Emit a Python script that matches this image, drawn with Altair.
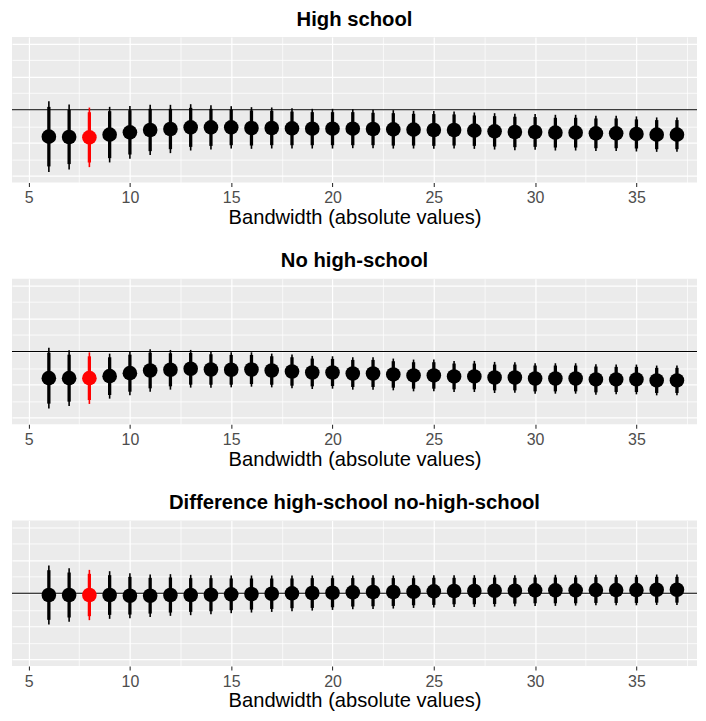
import altair as alt
import pandas as pd

bandwidth = list(range(6, 38))
highlight_bw = 8

panel_titles = ["High school", "No high-school", "Difference high-school no-high-school"]
x_title = "Bandwidth (absolute values)"
x_grid_values = [5, 7.5, 10, 12.5, 15, 17.5, 20, 22.5, 25, 27.5, 30, 32.5, 35, 37.5]
y_grid_values = [-0.2, -0.15, -0.1, -0.05, 0.0, 0.05, 0.1, 0.15, 0.2]
reference_line = [0.0]

hs_est = [-0.0814, -0.0823, -0.0835, -0.0753, -0.0684, -0.0612, -0.0582, -0.0533, -0.0533, -0.0533,
          -0.0552, -0.0552, -0.0564, -0.0573, -0.0573, -0.0573, -0.0582, -0.0594, -0.0603, -0.0612,
          -0.0612, -0.0633, -0.0654, -0.0672, -0.0672, -0.0693, -0.0693, -0.0714, -0.0714, -0.0732,
          -0.0753, -0.0753]
hs_ci95 = [0.107, 0.098, 0.090, 0.084, 0.080, 0.076, 0.073, 0.070, 0.067, 0.064, 0.063, 0.062, 0.061,
           0.060, 0.060, 0.059, 0.058, 0.058, 0.057, 0.057, 0.056, 0.055, 0.055, 0.055, 0.054, 0.054,
           0.054, 0.053, 0.053, 0.053, 0.052, 0.052]
hs_ci90 = [0.090, 0.082, 0.076, 0.071, 0.067, 0.064, 0.061, 0.059, 0.056, 0.054, 0.053, 0.052, 0.051,
           0.050, 0.050, 0.050, 0.049, 0.049, 0.048, 0.048, 0.047, 0.046, 0.046, 0.046, 0.045, 0.045,
           0.045, 0.045, 0.045, 0.044, 0.044, 0.044]

nhs_est = [-0.0805, -0.0805, -0.0805, -0.0744, -0.0654, -0.0573, -0.0552, -0.0521, -0.0543, -0.0552,
           -0.0543, -0.0573, -0.0603, -0.0633, -0.0633, -0.0663, -0.0663, -0.0693, -0.0723, -0.0723,
           -0.0753, -0.0753, -0.0784, -0.0784, -0.0814, -0.0814, -0.0814, -0.0844, -0.0844, -0.0844,
           -0.0874, -0.0874]
nhs_ci95 = [0.092, 0.084, 0.078, 0.068, 0.067, 0.064, 0.060, 0.057, 0.055, 0.053, 0.052, 0.051, 0.051,
            0.050, 0.049, 0.049, 0.049, 0.048, 0.048, 0.048, 0.047, 0.047, 0.047, 0.046, 0.046, 0.046,
            0.046, 0.046, 0.045, 0.045, 0.045, 0.045]
nhs_ci90 = [0.077, 0.071, 0.066, 0.057, 0.056, 0.054, 0.050, 0.048, 0.046, 0.045, 0.044, 0.043, 0.043,
            0.042, 0.041, 0.041, 0.041, 0.040, 0.040, 0.040, 0.039, 0.039, 0.039, 0.039, 0.039, 0.039,
            0.039, 0.039, 0.038, 0.038, 0.038, 0.038]

diff_est = [-0.0051, -0.0051, -0.0051, -0.0051, -0.0072, -0.0072, -0.0051, -0.0051, -0.0042, -0.0030,
            -0.0021, -0.0012, 0.0000, 0.0009, 0.0018, 0.0030, 0.0039, 0.0039, 0.0048, 0.0060,
            0.0069, 0.0069, 0.0078, 0.0078, 0.0090, 0.0090, 0.0090, 0.0099, 0.0099, 0.0099,
            0.0108, 0.0108]
diff_ci95 = [0.089, 0.081, 0.076, 0.072, 0.068, 0.064, 0.063, 0.061, 0.059, 0.057, 0.056, 0.055, 0.054,
             0.053, 0.052, 0.051, 0.051, 0.050, 0.049, 0.049, 0.048, 0.048, 0.048, 0.047, 0.047, 0.047,
             0.046, 0.046, 0.046, 0.046, 0.046, 0.046]
diff_ci90 = [0.075, 0.068, 0.064, 0.060, 0.057, 0.054, 0.053, 0.051, 0.050, 0.048, 0.047, 0.046, 0.045,
             0.045, 0.044, 0.043, 0.043, 0.042, 0.041, 0.041, 0.040, 0.040, 0.040, 0.039, 0.039, 0.039,
             0.039, 0.039, 0.039, 0.039, 0.039, 0.039]

FONT = "Liberation Sans"
W, H = 687, 146

x_scale = alt.Scale(domain=[4.18, 37.99], nice=False, zero=False)
y_scale = alt.Scale(domain=[-0.22, 0.22], nice=False, zero=False)

x_axis = alt.Axis(
    values=x_grid_values,
    labelExpr="datum.value % 5 === 0 ? datum.label : ''",
    title=x_title,
    tickColor={"condition": {"test": "datum.value % 5 === 0", "value": "#333333"}, "value": "transparent"},
    gridWidth={"condition": {"test": "datum.value % 5 === 0", "value": 1.2}, "value": 0.7},
)
y_axis = alt.Axis(
    values=y_grid_values,
    labels=False,
    ticks=False,
    domain=False,
    title=None,
    gridWidth={"condition": {"test": "abs(datum.value * 10 - round(datum.value * 10)) < 0.001", "value": 1.2},
               "value": 0.8},
)
color = alt.Color("hl:N", scale=alt.Scale(domain=["no", "yes"], range=["#000000", "#FF0000"]), legend=None)


def panel(title, est, ci95, ci90):
    df = pd.DataFrame({"bw": bandwidth, "est": est, "ci95": ci95, "ci90": ci90})
    df["lo95"] = df["est"] - df["ci95"]
    df["hi95"] = df["est"] + df["ci95"]
    df["lo90"] = df["est"] - df["ci90"]
    df["hi90"] = df["est"] + df["ci90"]
    df["hl"] = ["yes" if b == highlight_bw else "no" for b in bandwidth]
    base = alt.Chart(df)
    zero = alt.Chart(pd.DataFrame({"y": reference_line})).mark_rule(color="black", strokeWidth=1.1).encode(
        y=alt.Y("y:Q", scale=y_scale, axis=y_axis)
    )
    thin = base.mark_rule(strokeWidth=1.6).encode(
        x=alt.X("bw:Q", scale=x_scale, axis=x_axis),
        y=alt.Y("lo95:Q", scale=y_scale, axis=y_axis),
        y2="hi95:Q",
        color=color,
    )
    thick = base.mark_rule(strokeWidth=3.3).encode(
        x=alt.X("bw:Q", scale=x_scale, axis=x_axis),
        y=alt.Y("lo90:Q", scale=y_scale, axis=y_axis),
        y2="hi90:Q",
        color=color,
    )
    pts = base.mark_circle(size=215, opacity=1).encode(
        x=alt.X("bw:Q", scale=x_scale, axis=x_axis),
        y=alt.Y("est:Q", scale=y_scale, axis=y_axis),
        color=color,
    )
    return alt.layer(zero, thin, thick, pts).properties(
        width=W, height=H, title=alt.TitleParams(text=title)
    )


chart = alt.vconcat(
    panel(panel_titles[0], hs_est, hs_ci95, hs_ci90),
    panel(panel_titles[1], nhs_est, nhs_ci95, nhs_ci90),
    panel(panel_titles[2], diff_est, diff_ci95, diff_ci90),
    spacing=22.5,
).properties(
    padding={"left": 3, "top": 0, "right": 0, "bottom": 0},
    background="white",
).configure_view(
    fill="#EBEBEB", strokeWidth=0
).configure_axis(
    gridColor="#FFFFFF",
    domain=False,
    labelFont=FONT,
    titleFont=FONT,
    labelFontSize=16,
    titleFontSize=20.2,
    titleFontWeight="normal",
    labelColor="#4D4D4D",
    titleColor="#000000",
    tickSize=4,
    tickWidth=1.1,
    labelPadding=3,
    titlePadding=2,
).configure_title(
    font=FONT, fontSize=20.3, fontWeight="bold", anchor="middle", offset=7, color="#000000"
)

chart.save("out.html", embed_options={"renderer": "svg", "actions": False})
